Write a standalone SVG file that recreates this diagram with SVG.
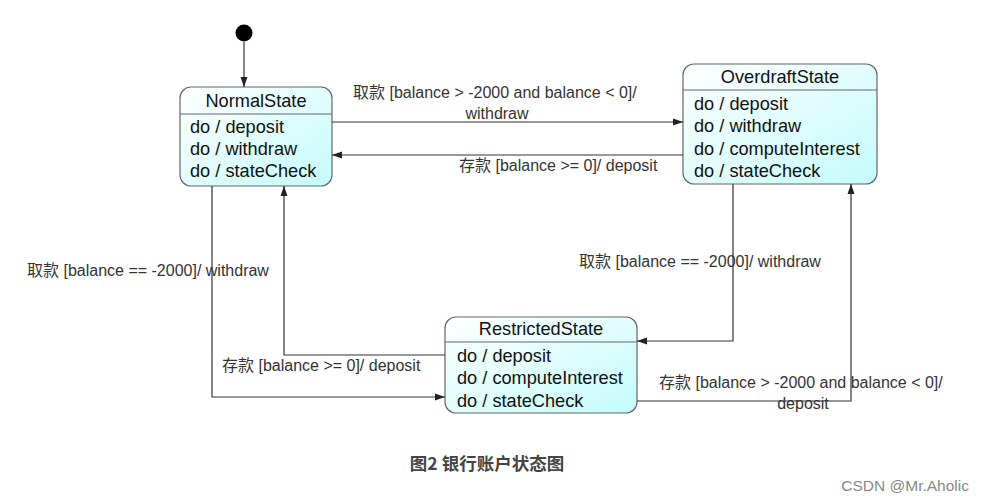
<svg xmlns="http://www.w3.org/2000/svg" width="983" height="501" viewBox="0 0 983 501">
<defs>
<linearGradient id="g" x1="0" y1="0" x2="1" y2="1">
<stop offset="0" stop-color="#ffffff"/>
<stop offset="1" stop-color="#c4fbfb"/>
</linearGradient>
<marker id="a" viewBox="0 0 10 10" refX="10" refY="5" markerWidth="10" markerHeight="10" markerUnits="userSpaceOnUse" orient="auto">
<path d="M0,1.5 L10,5 L0,8.5 z" fill="#222"/>
</marker>
<style>
.box{fill:url(#g);stroke:#666;stroke-width:1.2}
.sep{stroke:#666;stroke-width:1.2}
.t{font-family:"Liberation Sans",Arial,"Noto Sans CJK SC",sans-serif;font-size:18.2px;fill:#111}
.c{text-anchor:middle}
.e{fill:none;stroke:#333;stroke-width:1.2;marker-end:url(#a)}
.l{font-family:"Liberation Sans",Arial,"Noto Sans CJK SC",sans-serif;font-size:16px;fill:#333}
</style>
</defs>
<rect width="983" height="501" fill="#fff"/>
<g id="initial">
<circle cx="244" cy="33" r="8.5" fill="#000"/>
</g>
<g id="NormalState">
<rect class="box" x="180" y="87" width="152" height="99" rx="11"/>
<line class="sep" x1="180" y1="114" x2="332" y2="114"/>
<text class="t c" x="256" y="107">NormalState</text>
<text class="t" x="190" y="133">do / deposit</text>
<text class="t" x="190" y="155">do / withdraw</text>
<text class="t" x="190" y="177">do / stateCheck</text>
</g>
<g id="OverdraftState">
<rect class="box" x="683" y="64" width="194" height="120" rx="11"/>
<line class="sep" x1="683" y1="90" x2="877" y2="90"/>
<text class="t c" x="780" y="83">OverdraftState</text>
<text class="t" x="694" y="110">do / deposit</text>
<text class="t" x="694" y="132">do / withdraw</text>
<text class="t" x="694" y="155">do / computeInterest</text>
<text class="t" x="694" y="177">do / stateCheck</text>
</g>
<g id="RestrictedState">
<rect class="box" x="445" y="317" width="192" height="96" rx="11"/>
<line class="sep" x1="445" y1="342" x2="637" y2="342"/>
<text class="t c" x="541" y="335">RestrictedState</text>
<text class="t" x="457" y="362">do / deposit</text>
<text class="t" x="457" y="384">do / computeInterest</text>
<text class="t" x="457" y="407">do / stateCheck</text>
</g>
<g id="connectors">
<path class="e" d="M244,42 V87"/>
<path class="e" d="M332,122 H683"/>
<path class="e" d="M683,155 H332"/>
<path class="e" d="M212,186 V397 H445"/>
<path class="e" d="M445,355 H284 V186"/>
<path class="e" d="M733,184 V341 H637"/>
<path class="e" d="M637,401 H851 V184"/>
</g>
<g id="labels">
<text class="l" x="353" y="98">取款 [balance &gt; -2000 and balance &lt; 0]/</text>
<text class="l c" x="497" y="119">withdraw</text>
<text class="l" x="459" y="171">存款 [balance &gt;= 0]/ deposit</text>
<text class="l" x="27" y="276">取款 [balance == -2000]/ withdraw</text>
<text class="l" x="222" y="371">存款 [balance &gt;= 0]/ deposit</text>
<text class="l" x="579" y="267">取款 [balance == -2000]/ withdraw</text>
<text class="l" x="659" y="388">存款 [balance &gt; -2000 and balance &lt; 0]/</text>
<text class="l c" x="803" y="409">deposit</text>
</g>
<text x="487" y="470" text-anchor="middle" font-family="'Noto Sans CJK SC',sans-serif" font-size="17.5" font-weight="bold" fill="#444">图2 银行账户状态图</text>
<text x="969" y="491" text-anchor="end" font-family="'Liberation Sans',Arial,sans-serif" font-size="15.5" fill="#888">CSDN @Mr.Aholic</text>
</svg>
